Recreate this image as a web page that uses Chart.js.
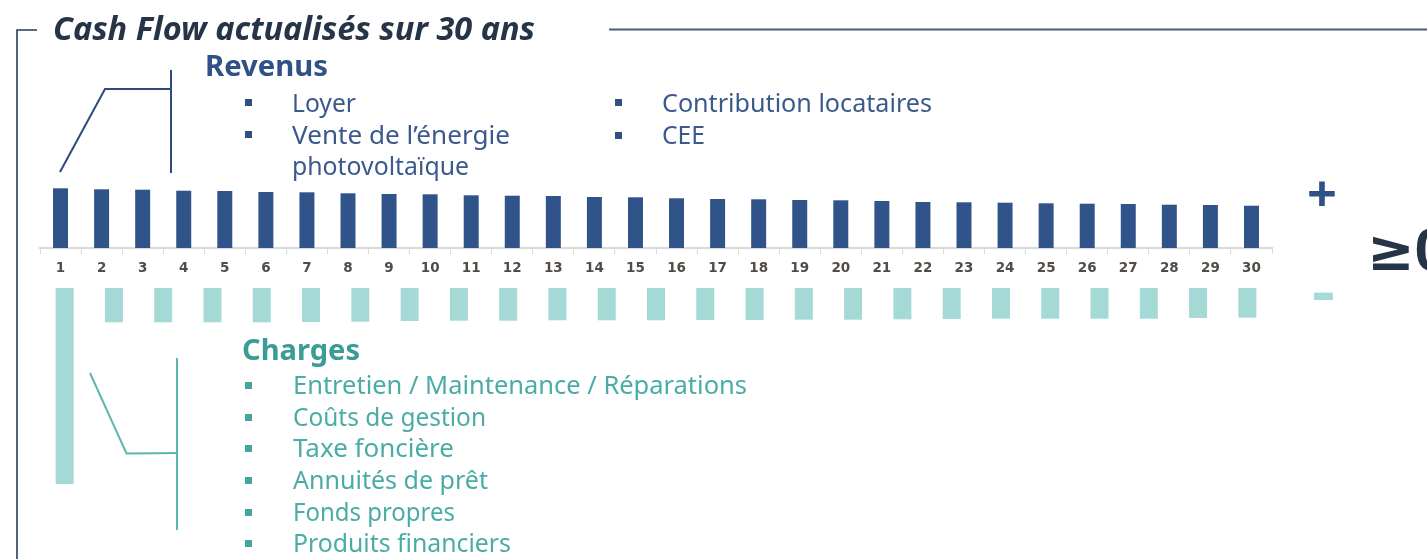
<!DOCTYPE html>
<html lang="fr">
<head>
<meta charset="utf-8">
<script src="https://cdn.jsdelivr.net/npm/chart.js@4.4.1/dist/chart.umd.min.js"></script>
<style>
  html, body { margin: 0; padding: 0; background: #ffffff; }
  #stage { position: relative; width: 1427px; height: 559px; overflow: hidden; background: #ffffff; }
  #cv { position: absolute; left: 0; top: 0; }
  #lines { position: absolute; left: 0; top: 0; }
  .txt { position: absolute; white-space: nowrap; transform-origin: 0 0; line-height: 1.2; }
  .bul { position: absolute; }
</style>
</head>
<body>
<div id="stage">
  <canvas id="cv" width="1427" height="559"></canvas>
  <svg id="lines" width="1427" height="559" xmlns="http://www.w3.org/2000/svg">
    <polyline points="37,30 17,30 17,559" fill="none" stroke="#2b3a55" stroke-width="1.6"/>
    <line x1="609" y1="29.5" x2="1427" y2="29.5" stroke="#4c5b77" stroke-width="2"/>
    <polyline points="60,172 105,89 171,89" fill="none" stroke="#2f4a7c" stroke-width="2"/>
    <line x1="171" y1="70" x2="171" y2="173" stroke="#2f4a7c" stroke-width="2"/>
    <polyline points="90,373 126.5,453.5 177,453" fill="none" stroke="#5bb8b1" stroke-width="2"/>
    <line x1="177" y1="358" x2="177" y2="530" stroke="#5bb8b1" stroke-width="2"/>
  </svg>
</div>
<script>
// ---------------- data ----------------
const years = ['1','2','3','4','5','6','7','8','9','10','11','12','13','14','15',
               '16','17','18','19','20','21','22','23','24','25','26','27','28','29','30'];
const revenus = [59.7, 58.7, 58.3, 57.3, 57.0, 56.0, 55.7, 54.7, 54.0, 53.7,
                 52.7, 52.3, 52.0, 51.0, 50.7, 49.7, 49.0, 48.7, 48.0, 47.7,
                 47.0, 46.0, 45.7, 45.3, 44.7, 44.3, 44.0, 43.3, 43.0, 42.3];
const chargePeriods = ['1','2','3','4','5','6','7','8','9','10','11','12','13',
                       '14','15','16','17','18','19','20','21','22','23','24','25'];
const charges = [196.0, 34.3, 34.3, 34.3, 34.3, 34.0, 33.7, 33.0, 32.7, 32.7,
                 32.3, 32.3, 32.3, 32.0, 32.0, 31.7, 31.7, 31.3, 31.0, 30.7,
                 30.7, 30.7, 30.7, 30.0, 29.7];
const titleText = 'Cash Flow actualisés sur 30 ans';
const revenusTitle = 'Revenus';
const revenusItemsCol1 = ['Loyer', 'Vente de l’énergie', 'photovoltaïque'];
const revenusItemsCol2 = ['Contribution locataires', 'CEE'];
const chargesTitle = 'Charges';
const chargesItems = ['Entretien / Maintenance / Réparations', 'Coûts de gestion', 'Taxe foncière',
                      'Annuités de prêt', 'Fonds propres', 'Produits financiers'];

// ---------------- colours ----------------
const NAVY = '#30538a';
const TEAL = '#a5d9d5';

// ---------------- chart ----------------
new Chart(document.getElementById('cv'), {
  type: 'bar',
  data: {
    labels: years,
    datasets: [
      { label: 'Revenus', data: revenus, backgroundColor: NAVY, xAxisID: 'x', yAxisID: 'y',
        grouped: false, barPercentage: 0.365, categoryPercentage: 1 },
      { label: 'Charges', data: charges.map(v => -v), backgroundColor: TEAL, xAxisID: 'x2', yAxisID: 'y2',
        grouped: false, barPercentage: 0.365, categoryPercentage: 1 }
    ]
  },
  options: {
    responsive: false,
    animation: false,
    devicePixelRatio: 1,
    layout: { padding: { left: 40, right: 155, top: 150, bottom: 59 } },
    plugins: { legend: { display: false }, tooltip: { enabled: false } },
    scales: {
      x: {
        type: 'category',
        position: { y: 0 },
        afterFit: s => { s.height = 0; },
        offset: true,
        grid: { drawOnChartArea: false, drawTicks: true, tickLength: 5, color: '#d9d9d9', lineWidth: 1, offset: true },
        border: { display: true, color: '#d9d9d9', width: 2 },
        ticks: { color: '#524c47', padding: 7, maxRotation: 0, autoSkip: false,
                 font: { family: "'DejaVu Sans', 'Noto Sans', sans-serif", size: 13.5, weight: 'bold' } }
      },
      x2: { type: 'category', labels: chargePeriods, display: false, offset: true },
      y: { display: false, min: -252, max: 98 },
      y2: { display: false, min: -212, max: 138 }
    }
  }
});

// ---------------- text ----------------
const stage = document.getElementById('stage');
const FAM = "'Noto Sans', 'DejaVu Sans', sans-serif";
const texts = [
  { text: titleText, x: 53, base: 40, size: 32, weight: 700, style: 'italic', color: '#263447', w: 482 },
  { text: revenusTitle, x: 205, base: 76, size: 28, weight: 700, color: '#2f5185', w: 123 },
  { text: revenusItemsCol1[0], x: 292, base: 112, size: 24.5, weight: 400, color: '#3b5a8c', w: 64 },
  { text: revenusItemsCol1[1], x: 292, base: 144, size: 24.5, weight: 400, color: '#3b5a8c', w: 218 },
  { text: revenusItemsCol1[2], x: 292, base: 175, size: 24.5, weight: 400, color: '#3b5a8c', w: 177 },
  { text: revenusItemsCol2[0], x: 662, base: 112, size: 24.5, weight: 400, color: '#3b5a8c', w: 270 },
  { text: revenusItemsCol2[1], x: 662, base: 144, size: 24.5, weight: 400, color: '#3b5a8c', w: 43 },
  { text: chargesTitle, x: 242, base: 360, size: 28, weight: 700, color: '#3a9c95', w: 118 },
  { text: '+', x: 1307, base: 212, size: 50, weight: 700, color: '#2f5185', w: 30 },
  { text: '-', x: 1312, base: 312, size: 60, weight: 700, color: '#a5dad6', w: 23 },
  { text: '≥0', x: 1367, base: 270, size: 57, weight: 700, color: '#263447' }
];
const chargeBases = [394, 426, 457, 489, 521, 552];
const chargeWidths = [454, 193, 161, 195, 162, 218];
chargesItems.forEach((t, i) => texts.push({ text: t, x: 293, base: chargeBases[i], size: 24.5, weight: 400, color: '#4aaca6', w: chargeWidths[i] }));

function place(t) {
  const el = document.createElement('div');
  el.className = 'txt';
  el.style.font = `${t.style || 'normal'} ${t.weight} ${t.size}px ${FAM}`;
  el.style.color = t.color;
  el.style.left = t.x + 'px';
  el.style.top = '0px';
  el.appendChild(document.createTextNode(t.text));
  const probe = document.createElement('span');
  probe.style.cssText = 'display:inline-block;width:0;height:0;vertical-align:baseline';
  el.appendChild(probe);
  stage.appendChild(el);
  const baseOff = probe.offsetTop;
  el.style.top = (t.base - baseOff) + 'px';
  if (t.w) {
    const r = document.createRange();
    r.selectNodeContents(el.firstChild);
    const w = r.getBoundingClientRect().width;
    if (w > 0) el.style.transform = `scaleX(${(t.w / w).toFixed(4)})`;
  }
}
function bullet(x, cy, color) {
  const b = document.createElement('div');
  b.className = 'bul';
  b.style.cssText = `left:${x}px;top:${cy - 3.5}px;width:7px;height:7px;background:${color}`;
  stage.appendChild(b);
}
function drawTexts() {
  texts.forEach(place);
  bullet(245, 102.5, '#2f4f86');
  bullet(245, 134.5, '#2f4f86');
  bullet(615, 102.5, '#2f4f86');
  bullet(615, 135, '#2f4f86');
  chargeBases.forEach(b => bullet(245, b - 9, '#45a49d'));
}
if (document.fonts && document.fonts.ready) { document.fonts.ready.then(drawTexts); } else { drawTexts(); }
</script>
</body>
</html>
